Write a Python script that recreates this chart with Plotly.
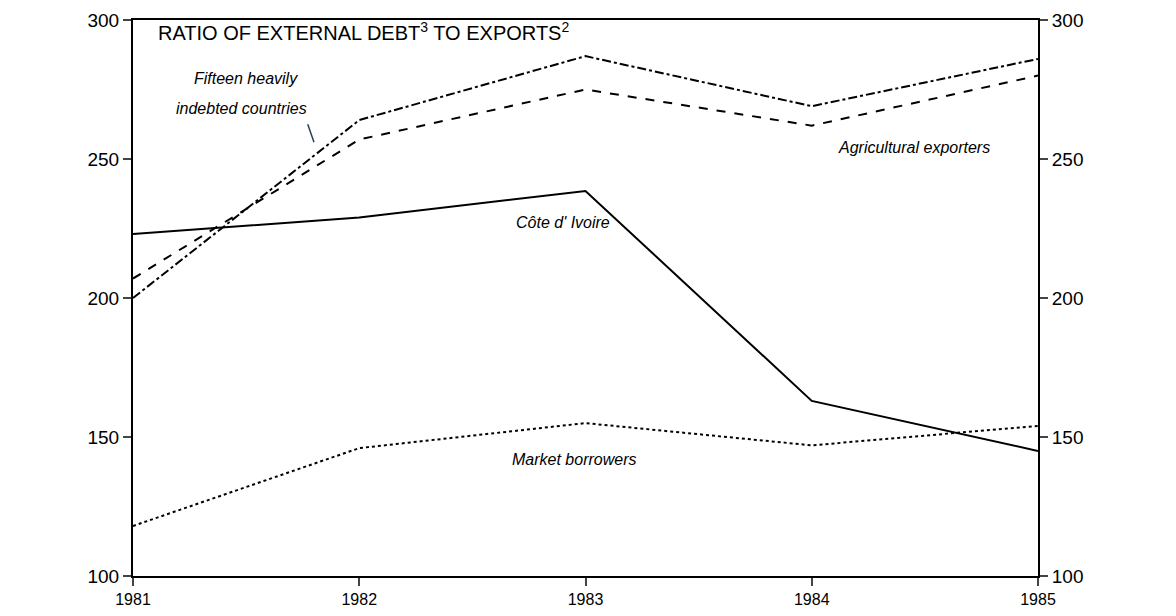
import plotly.graph_objects as go

years = [1981, 1982, 1983, 1984, 1985]
fifteen = [200, 264, 287, 269, 286]
agri = [207, 257, 275, 262, 280]
cote = [223, 229, 238.5, 163, 145]
market = [118, 146, 155, 147, 154]
yticks = [100, 150, 200, 250, 300]

fig = go.Figure()
ln = dict(color="black", width=2)
fig.add_trace(go.Scatter(x=years, y=fifteen, mode="lines", line=dict(ln, dash="dashdot")))
fig.add_trace(go.Scatter(x=years, y=agri, mode="lines", line=dict(ln, dash="dash")))
fig.add_trace(go.Scatter(x=years, y=cote, mode="lines", line=ln))
fig.add_trace(go.Scatter(x=years, y=market, mode="lines", line=dict(ln, dash="dot"), yaxis="y2"))

fnt = dict(family="Liberation Sans, Arial", size=19, color="black")
ax = dict(range=[100, 300], tickvals=yticks, ticks="outside", ticklen=8, tickwidth=2,
          showgrid=False, zeroline=False, showline=True, linecolor="black", linewidth=2,
          tickfont=fnt, automargin=False)
fig.update_layout(
    width=1176, height=616, plot_bgcolor="white", paper_bgcolor="white", showlegend=False,
    margin=dict(l=125, r=146, t=12, b=48, autoexpand=False),
    xaxis=dict(range=[1981, 1985], tickvals=years, ticks="outside", ticklen=8, tickwidth=2,
               showgrid=False, zeroline=False, showline=True, linecolor="black", linewidth=2,
               mirror=True, tickfont=dict(fnt, size=16), automargin=False),
    yaxis=ax,
    yaxis2=dict(ax, overlaying="y", side="right"),
)
ita = dict(family="Liberation Sans, Arial", size=16, color="black")
def note(t, x, y):
    fig.add_annotation(x=x, y=y, text=t, showarrow=False, font=ita, xref="x", yref="y")
note("<i>Fifteen heavily</i>", 1981.5, 279)
note("<i>indebted countries</i>", 1981.48, 268)
note("<i>Agricultural exporters</i>", 1984.45, 254)
note("<i>Côte d' Ivoire</i>", 1982.9, 227)
note("<i>Market borrowers</i>", 1982.95, 142)
fig.add_annotation(x=1981.8, y=256, ax=1981.77, ay=263, axref="x", ayref="y",
                   showarrow=True, arrowhead=0, arrowwidth=1.5, text="")
fig.add_annotation(x=1981.1, y=296, xref="x", yref="y", xanchor="left", showarrow=False,
                   text="RATIO OF EXTERNAL DEBT<sup>3</sup> TO EXPORTS<sup>2</sup>",
                   font=dict(family="Liberation Sans, Arial", size=20, color="black"))
fig.write_html("out.html")
